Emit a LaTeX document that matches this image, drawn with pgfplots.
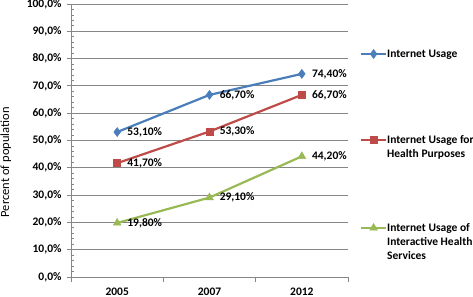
\documentclass[border=0pt]{standalone}
\usepackage{fontspec}
\setmainfont{Carlito}
\usepackage{pgfplots}
\pgfplotsset{compat=1.18}
\definecolor{cblue}{HTML}{4A7EBB}
\definecolor{cred}{HTML}{BE4B48}
\definecolor{cgreen}{HTML}{98B954}
\definecolor{gridgray}{HTML}{868686}
\newcommand\lf{\fontsize{11.5bp}{14bp}\selectfont}
\pgfplotsset{
  base/.style={at={(71bp,20bp)}, anchor=south west,
    scale only axis, width=277bp, height=273bp,
    xmin=-0.5, xmax=2.5, ymin=0, ymax=100},
  mylegend/.style={legend cell align=left,
    legend style={at={(1,1)}, anchor=north west, xshift=12bp, yshift=#1, draw=none, fill=none,
      inner sep=0pt, outer sep=0pt, font=\lf\bfseries,
      nodes={inner sep=0pt, anchor=base west},
      /tikz/every even column/.style={column sep=2bp}},
    legend image code/.code={\draw[mark repeat=2,mark phase=2,##1] plot coordinates {(0bp,3.5bp)(12.5bp,3.5bp)(25bp,3.5bp)};}},
  sblue/.style={cblue, line width=2.2pt, mark=diamond*, mark size=4.5bp, mark options={solid, line width=0.5pt}},
  sred/.style={cred, line width=2.2pt, mark=square*, mark size=3.5bp, mark options={solid, line width=0.5pt}},
  sgreen/.style={cgreen, line width=2.2pt, mark=triangle*, mark size=4.5bp, mark options={solid, line width=0.5pt}},
}
\begin{document}
\begin{tikzpicture}
\path[use as bounding box] (0,0) rectangle (473bp,297bp);
\begin{axis}[base,
  axis x line*=bottom, axis y line*=left,
  axis line style={gridgray, line width=0.8pt, -},
  /pgf/number format/assume math mode=true,
  xtick={0,1,2}, xticklabels={2005,2007,2012},
  x tick style={draw=none},
  xticklabel style={font=\lf\bfseries, text=black, yshift=-3bp},
  extra x ticks={-0.5,0.5,1.5,2.5}, extra x tick labels={},
  extra x tick style={x tick style={draw=gridgray, line width=0.8pt}, major tick length=5bp, tick align=outside, grid=none},
  ytick={0,10,...,100},
  minor y tick num=4,
  ymajorgrids, major grid style={gridgray, line width=0.8pt},
  y tick style={gridgray, line width=0.8pt},
  tick align=outside,
  major tick length=4bp, minor tick length=2.5bp,
  minor tick style={xshift=2.5bp},
  yticklabel={\pgfmathprintnumber[fixed,fixed zerofill,precision=1,use comma]{\tick}\%},
  yticklabel style={font=\lf\bfseries, text=black, xshift=-2bp},
  ylabel={Percent of population},
  ylabel style={at={(axis description cs:-0.235,0.42)}, anchor=center, font=\fontsize{12.5bp}{14bp}\selectfont},
  nodes near coords={\pgfmathprintnumber[fixed,fixed zerofill,precision=2,use comma]{\pgfplotspointmeta}\%},
  every node near coord/.append style={anchor=west, xshift=10bp, font=\lf\bfseries, text=black, inner sep=0pt},
  mylegend=-45.5bp,
]
\addplot[sblue] coordinates {(0,53.1)(1,66.7)(2,74.4)};
\addlegendentry{Internet Usage}
\addplot[sred] coordinates {(0,41.7)(1,53.3)(2,66.7)};
\addplot[sgreen] coordinates {(0,19.8)(1,29.1)(2,44.2)};
\end{axis}
\begin{axis}[base, hide axis, mylegend=-131.5bp]
\addlegendimage{sred}
\addlegendentry{\parbox[t]{95bp}{Internet Usage for\\Health Purposes}}
\end{axis}
\begin{axis}[base, hide axis, mylegend=-219.5bp]
\addlegendimage{sgreen}
\addlegendentry{\parbox[t]{95bp}{Internet Usage of\\Interactive Health\\Services}}
\end{axis}
\end{tikzpicture}
\end{document}
